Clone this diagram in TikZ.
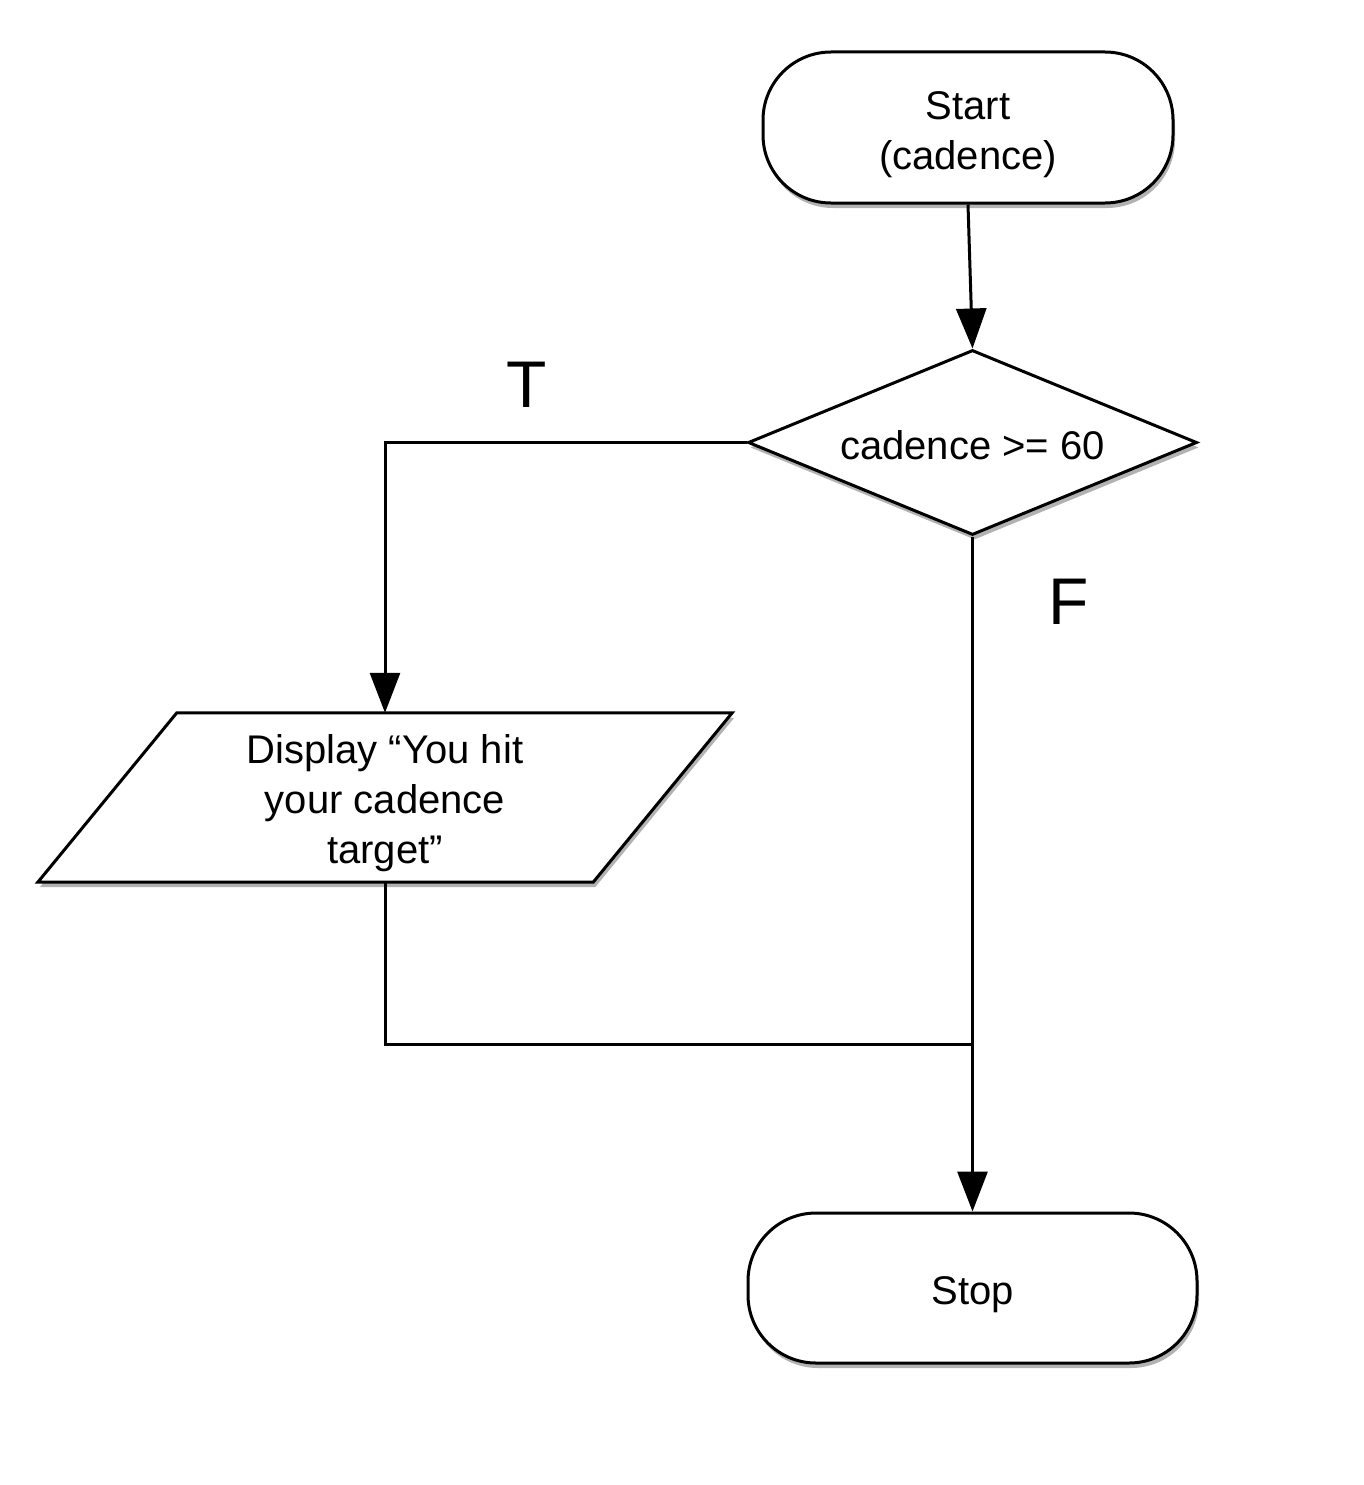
\documentclass[tikz,border=0pt]{standalone}
\usepackage{fontspec}
\setmainfont{Liberation Sans}
\usetikzlibrary{shapes.geometric,arrows.meta,shadows}
\newcommand{\topstrut}[1]{\rule{0pt}{#1}}
\begin{document}
\begin{tikzpicture}[x=1pt,y=-1pt,
  txt/.style={font=\fontsize{40}{50}\selectfont},
  bigtxt/.style={font=\fontsize{66}{70}\selectfont},
  shade/.style={drop shadow={shadow xshift=2pt,shadow yshift=-5pt,fill=black,opacity=0.3}},
  term/.style={txt,draw,line width=3pt,rectangle,rounded corners=68pt,fill=white,shade,align=center,inner sep=0pt},
  decision/.style={txt,draw,line width=3pt,diamond,aspect=2.43,fill=white,shade,inner sep=0pt},
  iobox/.style={txt,align=center,inner sep=0pt},
  conn/.style={line width=3pt},
  arr/.style={conn,-{Triangle[length=40pt,width=30pt]}}]
\useasboundingbox (0,0) rectangle (1363,1485);

\node[term,minimum width=410pt,minimum height=151pt] (start) at (968,127.5) {\topstrut{42pt}Start\\(cadence)};
\node[decision,minimum width=449pt,minimum height=185pt] (dec) at (972.5,442.5) {\topstrut{34pt}cadence >= 60};
\node[iobox,minimum width=555pt,minimum height=169pt] (disp) at (385,797.5) {};
\draw[line width=3pt,fill=white,shade]
  ([xshift=69.5pt]disp.north west) -- ([xshift=69.5pt]disp.north east)
  -- ([xshift=-69.5pt]disp.south east) -- ([xshift=-69.5pt]disp.south west) -- cycle;
\node[iobox,yshift=-6pt] (disptext) at (disp.center) {Display “You hit\\your cadence\\target”};
\node[term,minimum width=449pt,minimum height=150pt] (stop) at (972.5,1288) {\topstrut{42pt}Stop};

\node[bigtxt] (tlab) at (527,385) {T};
\node[bigtxt] (flab) at (1069,602) {F};

\coordinate (join) at (972.5,1044);

\draw[arr] (start.south) -- (dec.north);
\draw[arr] (dec.west) -| (disp.north);
\draw[arr] (dec.south) -- (stop.north);
\draw[conn] (disp.south) |- (join);
\end{tikzpicture}
\end{document}
